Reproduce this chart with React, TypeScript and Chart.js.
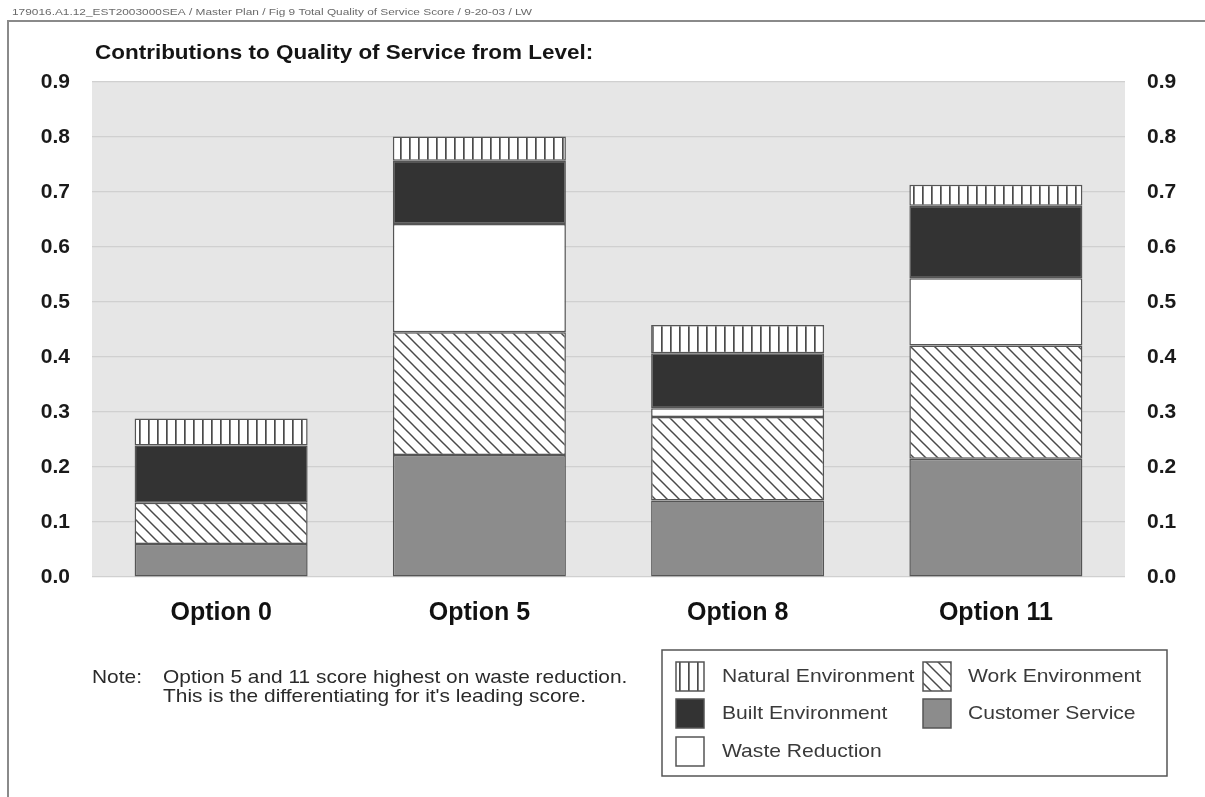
import React, { useEffect, useRef } from "react";
import { Chart, registerables } from "chart.js";

Chart.register(...registerables);

// Options compared
const categories = ["Option 0", "Option 5", "Option 8", "Option 11"];

// Contribution of each level, stacked bottom to top
const customerService = [0.06, 0.222, 0.139, 0.215];
const workEnvironment = [0.075, 0.223, 0.152, 0.206];
const wasteReduction = [0.0, 0.197, 0.016, 0.122];
const builtEnvironment = [0.104, 0.115, 0.1, 0.132];
const naturalEnvironment = [0.049, 0.044, 0.051, 0.038];

const yTicks = [0, 0.1, 0.2, 0.3, 0.4, 0.5, 0.6, 0.7, 0.8, 0.9];

const headerText =
  "179016.A1.12_EST2003000SEA / Master Plan / Fig 9 Total Quality of Service Score / 9-20-03 / LW";
const titleText = "Contributions to Quality of Service from Level:";
const noteLabel = "Note:";
const noteLines = [
  "Option 5 and 11 score highest on waste reduction.",
  "This is the differentiating for it's leading score.",
];

const FONT = "'Liberation Sans', Arial, Helvetica, sans-serif";
const W = 1205;
const H = 797;

function makeDiagonalPattern(ctx: CanvasRenderingContext2D): CanvasPattern {
  const s = 12;
  const c = document.createElement("canvas");
  c.width = s;
  c.height = s;
  const g = c.getContext("2d")!;
  g.fillStyle = "#ffffff";
  g.fillRect(0, 0, s, s);
  g.strokeStyle = "#4a4a4a";
  g.lineWidth = 1.5;
  for (const k of [-1, 0, 1]) {
    g.beginPath();
    g.moveTo(k * s - 1, -1);
    g.lineTo(k * s + s + 1, s + 1);
    g.stroke();
  }
  return ctx.createPattern(c, "repeat")!;
}

function makeVerticalPattern(ctx: CanvasRenderingContext2D): CanvasPattern {
  const s = 9;
  const c = document.createElement("canvas");
  c.width = s;
  c.height = s;
  const g = c.getContext("2d")!;
  g.fillStyle = "#ffffff";
  g.fillRect(0, 0, s, s);
  g.fillStyle = "#4a4a4a";
  g.fillRect(4, 0, 1.7, s);
  return ctx.createPattern(c, "repeat")!;
}

// Text drawn with a slight horizontal widening, as in the printed figure
function wideText(c: CanvasRenderingContext2D, text: string, x: number, y: number, sx: number) {
  c.save();
  c.translate(x, y);
  c.scale(sx, 1);
  c.fillText(text, 0, 0);
  c.restore();
}

export default function App() {
  const canvasRef = useRef<HTMLCanvasElement | null>(null);

  useEffect(() => {
    const canvas = canvasRef.current;
    if (!canvas) return;
    const ctx = canvas.getContext("2d")!;
    const diagonal = makeDiagonalPattern(ctx);
    const vertical = makeVerticalPattern(ctx);

    const edge = "#555555";
    const fills = {
      natural: vertical,
      work: diagonal,
      built: "#333333",
      customer: "#8c8c8c",
      waste: "#ffffff",
    };

    const legendItems = [
      { label: "Natural Environment", fill: fills.natural, col: 0, row: 0 },
      { label: "Work Environment", fill: fills.work, col: 1, row: 0 },
      { label: "Built Environment", fill: fills.built, col: 0, row: 1 },
      { label: "Customer Service", fill: fills.customer, col: 1, row: 1 },
      { label: "Waste Reduction", fill: fills.waste, col: 0, row: 2 },
    ];

    const plotBackground = {
      id: "plotBackground",
      beforeDraw(chart: Chart) {
        const { ctx: c, chartArea } = chart;
        c.save();
        c.fillStyle = "#ffffff";
        c.fillRect(0, 0, chart.width, chart.height);
        c.fillStyle = "#e6e6e6";
        c.fillRect(
          chartArea.left,
          chartArea.top,
          chartArea.right - chartArea.left,
          chartArea.bottom - chartArea.top
        );
        c.restore();
      },
    };

    const annotations = {
      id: "annotations",
      afterDraw(chart: Chart) {
        const c = chart.ctx;
        c.save();

        // page frame
        c.strokeStyle = "#8a8a8a";
        c.lineWidth = 2;
        c.beginPath();
        c.moveTo(W, 21);
        c.lineTo(8, 21);
        c.lineTo(8, H);
        c.stroke();

        // file header
        c.fillStyle = "#6a6a6a";
        c.font = `9.5px ${FONT}`;
        c.textBaseline = "middle";
        c.textAlign = "left";
        wideText(c, headerText, 12, 12, 1.25);

        // title
        c.fillStyle = "#151515";
        c.font = `bold 21px ${FONT}`;
        wideText(c, titleText, 95, 53, 1.07);

        // note
        c.fillStyle = "#2a2a2a";
        c.font = `19px ${FONT}`;
        wideText(c, noteLabel, 92, 678, 1.1);
        wideText(c, noteLines[0], 163, 678, 1.1);
        wideText(c, noteLines[1], 163, 697, 1.1);

        // legend box
        c.strokeStyle = edge;
        c.lineWidth = 1.5;
        c.strokeRect(662, 650, 505, 126);

        const colSwatch = [676, 923];
        const colText = [722, 968];
        const rowTop = [662, 699, 737];
        c.font = `19px ${FONT}`;
        for (const it of legendItems) {
          const x = colSwatch[it.col];
          const y = rowTop[it.row];
          c.fillStyle = it.fill as any;
          c.fillRect(x, y, 28, 29);
          c.strokeStyle = edge;
          c.lineWidth = 1.5;
          c.strokeRect(x, y, 28, 29);
          c.fillStyle = "#3a3a3a";
          wideText(c, it.label, colText[it.col], y + 15, 1.11);
        }
        c.restore();
      },
    };

    const tickFont = { family: FONT, size: 21, weight: "bold" as const };

    const chart = new Chart(canvas, {
      type: "bar",
      data: {
        labels: categories,
        datasets: [
          { label: "Customer Service", data: customerService, backgroundColor: fills.customer },
          { label: "Work Environment", data: workEnvironment, backgroundColor: fills.work },
          { label: "Waste Reduction", data: wasteReduction, backgroundColor: fills.waste },
          { label: "Built Environment", data: builtEnvironment, backgroundColor: fills.built },
          { label: "Natural Environment", data: naturalEnvironment, backgroundColor: fills.natural },
        ].map((d) => ({
          ...d,
          borderColor: edge,
          borderWidth: 1.5,
          borderSkipped: false,
          categoryPercentage: 1,
          barPercentage: 0.67,
          yAxisID: "y",
        })),
      },
      options: {
        responsive: false,
        animation: false,
        devicePixelRatio: 1,
        layout: { padding: { top: 82, left: 0, right: 0, bottom: 0 } },
        plugins: {
          legend: { display: false },
          title: { display: false },
          tooltip: { enabled: false },
        },
        scales: {
          x: {
            stacked: true,
            grid: { display: false, drawTicks: false },
            border: { display: false },
            ticks: {
              color: "#111111",
              font: { family: FONT, size: 25, weight: "bold" },
              padding: 21,
            },
            afterFit(scale: any) {
              scale.height = 220;
            },
          },
          y: {
            stacked: true,
            position: "left",
            min: 0,
            max: 0.9,
            afterBuildTicks(scale: any) {
              scale.ticks = yTicks.map((v) => ({ value: v }));
            },
            grid: { color: "#d0d0d0", lineWidth: 1.2, drawTicks: false },
            border: { display: false },
            ticks: {
              color: "#1a1a1a",
              font: tickFont,
              padding: 22,
              callback: (v: any) => Number(v).toFixed(1),
            },
            afterFit(scale: any) {
              scale.width = 92;
            },
          },
          y2: {
            position: "right",
            min: 0,
            max: 0.9,
            afterBuildTicks(scale: any) {
              scale.ticks = yTicks.map((v) => ({ value: v }));
            },
            grid: { display: false, drawTicks: false },
            border: { display: false },
            ticks: {
              color: "#1a1a1a",
              font: tickFont,
              padding: 22,
              callback: (v: any) => Number(v).toFixed(1),
            },
            afterFit(scale: any) {
              scale.width = 80;
            },
          },
        },
      },
      plugins: [plotBackground, annotations],
    });

    return () => chart.destroy();
  }, []);

  return (
    <div style={{ position: "absolute", left: 0, top: 0, width: W, height: H, background: "#ffffff" }}>
      <canvas ref={canvasRef} width={W} height={H} style={{ display: "block" }} />
    </div>
  );
}
